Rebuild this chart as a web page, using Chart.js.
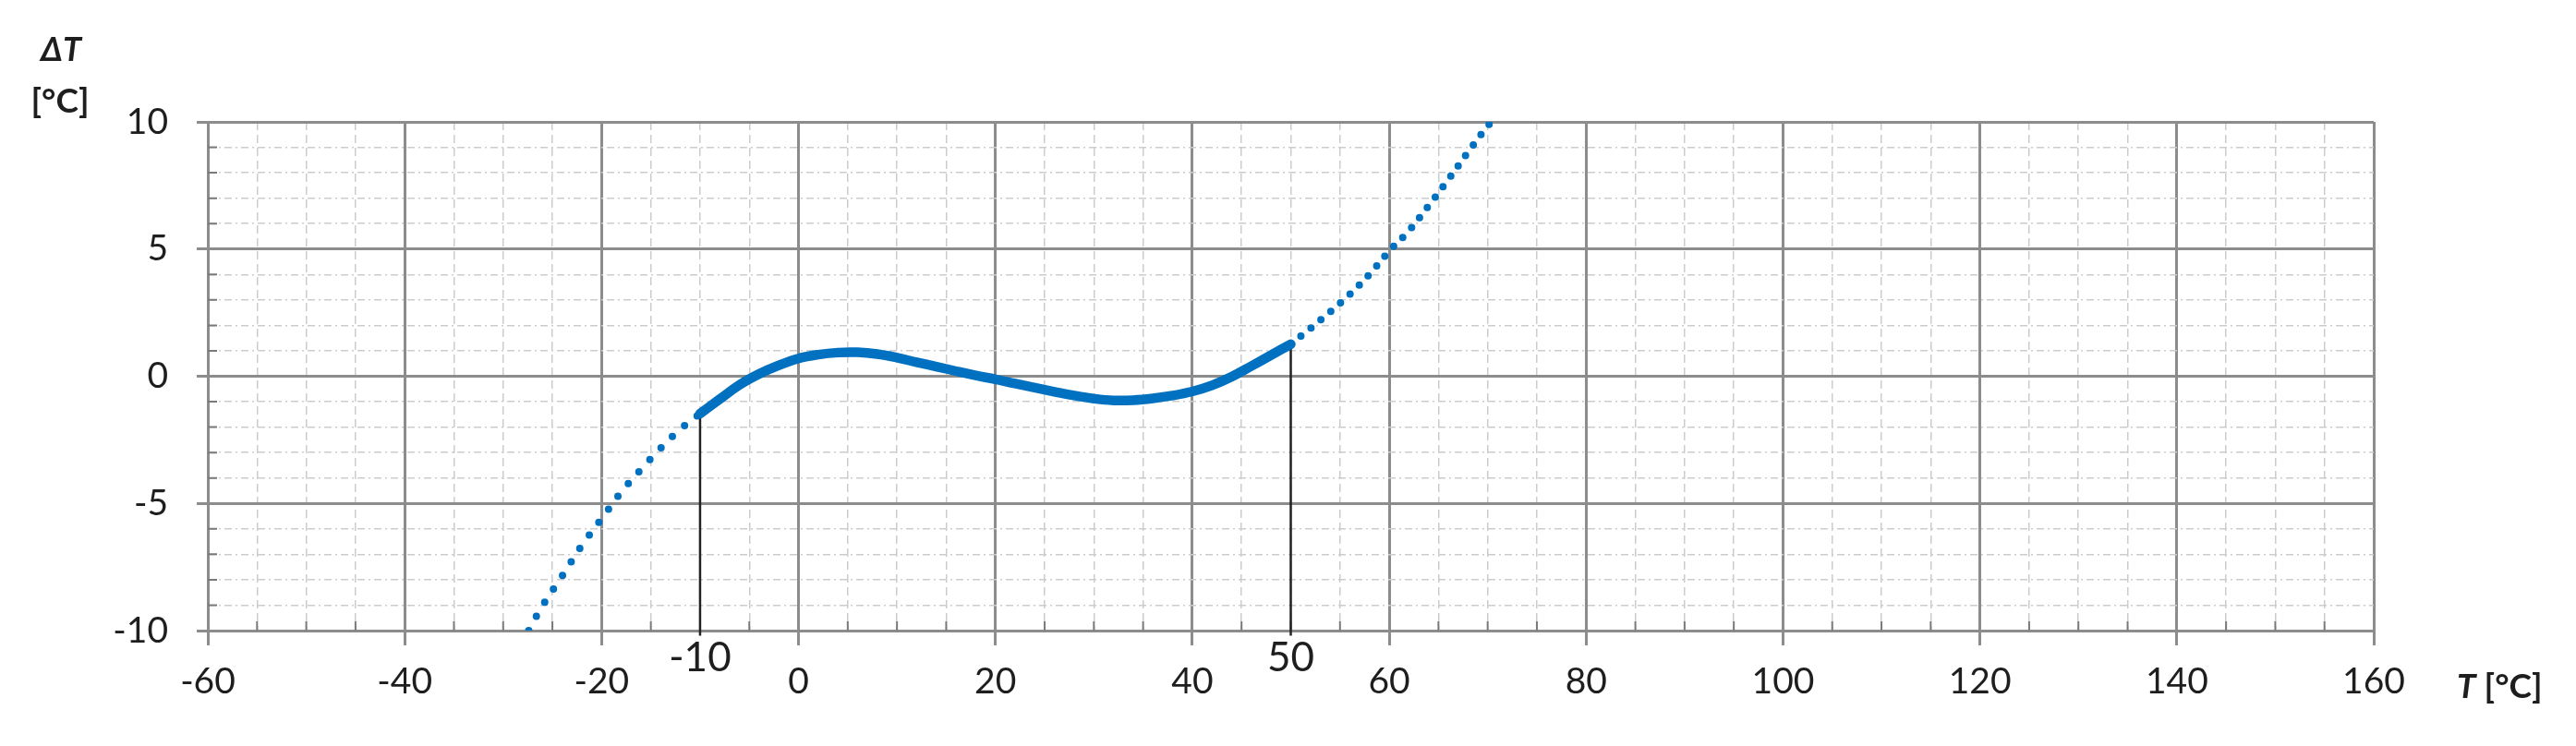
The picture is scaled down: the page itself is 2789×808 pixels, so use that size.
<!DOCTYPE html>
<html>
<head>
<meta charset="utf-8">
<script src="https://cdn.jsdelivr.net/npm/chart.js@4/dist/chart.umd.min.js"></script>
<style>
  html, body { margin: 0; padding: 0; background: #ffffff; }
  canvas { display: block; }
</style>
</head>
<body>
<canvas id="c" width="2789" height="808"></canvas>
<script>
// ---- data ----
const solidT = [-10, -8, -6, -4, -2, 0, 2, 4, 6, 8, 10, 12, 14, 16, 18, 20, 22, 24, 26, 28, 30, 32, 34, 36, 38, 40, 42, 44, 46, 48, 50];
const solidV = [-1.47, -0.90, -0.34, 0.09, 0.43, 0.70, 0.85, 0.93, 0.94, 0.87, 0.73, 0.55, 0.38, 0.20, 0.03, -0.12, -0.29, -0.45, -0.61, -0.76, -0.88, -0.95, -0.94, -0.87, -0.76, -0.60, -0.36, -0.02, 0.40, 0.83, 1.26];

const lowT = [-27.4, -26, -24, -22, -20, -18, -16, -14, -12, -10];
const lowV = [-10.0, -9.02, -7.85, -6.65, -5.60, -4.55, -3.66, -2.83, -2.08, -1.47];

const highT = [50, 52, 54, 56, 58, 60, 62, 64, 66, 68, 70, 70.4];
const highV = [1.26, 1.88, 2.53, 3.22, 4.01, 4.92, 5.72, 6.70, 7.73, 8.81, 9.84, 10.0];

const markerT = [-10, 50];
const markerLabels = ['-10', '50'];
const markerTop = [-1.47, 1.10];
const markerBottom = -10.2;

const xMin = -60, xMax = 160, xStep = 20, xMinorStep = 5;
const yMin = -10, yMax = 10, yStep = 5, yMinorStep = 1;

const yTitleLines = ['\u0394T', '[\u00B0C]'];
const xTitleItalic = 'T';
const xTitleRest = ' [\u00B0C]';

// ---- styles ----
const BLUE = '#0070c0';
const MAJOR = '#8c8c8c';
const MINOR = '#cccccc';
const TEXT = '#1e1e1e';
const FONT = 'Lato, "Open Sans", sans-serif';

const pts = (xs, ys) => xs.map((t, i) => ({ x: t, y: ys[i] }));

const markerSets = markerT.map((t, i) => ({
  data: [{ x: t, y: markerBottom }, { x: t, y: markerTop[i] }],
  showLine: true, borderColor: '#222222', borderWidth: 2.5,
  pointRadius: 0, clip: false, order: 5
}));

const minorTicks = {
  id: 'minorTicks',
  beforeDatasetsDraw(chart) {
    const ctx = chart.ctx, x = chart.scales.x, y = chart.scales.y, a = chart.chartArea;
    ctx.save();
    ctx.strokeStyle = '#7a7a7a';
    ctx.lineWidth = 2;
    ctx.beginPath();
    for (let v = yMin; v <= yMax; v += yMinorStep) {
      if (v % yStep === 0) continue;
      const py = y.getPixelForValue(v);
      ctx.moveTo(a.left, py); ctx.lineTo(a.left + 10, py);
    }
    for (let v = xMin; v <= xMax; v += xMinorStep) {
      if (v % xStep === 0) continue;
      const px = x.getPixelForValue(v);
      ctx.moveTo(px, a.bottom); ctx.lineTo(px, a.bottom - 10);
    }
    ctx.stroke();
    ctx.restore();
  }
};

const titles = {
  id: 'titles',
  afterDraw(chart) {
    const ctx = chart.ctx, a = chart.chartArea, xs = chart.scales.x;
    ctx.save();
    ctx.fillStyle = TEXT;
    ctx.textBaseline = 'middle';
    ctx.textAlign = 'center';
    ctx.font = 'italic bold 36px ' + FONT;
    ctx.fillText(yTitleLines[0], 66, 54);
    ctx.font = 'bold 37px ' + FONT;
    ctx.fillText(yTitleLines[1], 65, 110);
    // marker labels
    ctx.font = '44px ' + FONT;
    markerT.forEach((t, i) => {
      ctx.fillText(markerLabels[i], xs.getPixelForValue(t), a.bottom + 30);
    });
    ctx.textAlign = 'left';
    const x0 = a.right + 90, yy = 744;
    ctx.font = 'italic bold 37px ' + FONT;
    ctx.fillText(xTitleItalic, x0, yy);
    const w = ctx.measureText(xTitleItalic).width;
    ctx.font = 'bold 37px ' + FONT;
    ctx.fillText(xTitleRest, x0 + w, yy);
    ctx.restore();
  }
};

new Chart(document.getElementById('c'), {
  type: 'scatter',
  data: {
    datasets: [
      { data: pts(solidT, solidV), showLine: true, borderColor: BLUE, borderWidth: 10.5,
        pointRadius: 0, tension: 0.4, borderCapStyle: 'round', order: 1 },
      { data: pts(lowT, lowV), showLine: true, borderColor: BLUE, borderWidth: 8,
        borderDash: [0, 17.5], borderCapStyle: 'round', pointRadius: 0, tension: 0.4, order: 2 },
      { data: pts(highT, highV), showLine: true, borderColor: BLUE, borderWidth: 8,
        borderDash: [0, 14], borderCapStyle: 'round', pointRadius: 0, tension: 0.4, order: 2 },
      ...markerSets
    ]
  },
  options: {
    responsive: false,
    animation: false,
    devicePixelRatio: 1,
    layout: { padding: { left: 0, right: 219, top: 132, bottom: 0 } },
    plugins: { legend: { display: false }, tooltip: { enabled: false }, title: { display: false } },
    scales: {
      x: {
        type: 'linear', position: 'bottom', min: xMin, max: xMax, weight: 0,
        ticks: { stepSize: xStep, color: TEXT, font: { family: FONT, size: 39 }, padding: 16, maxRotation: 0 },
        grid: { color: MAJOR, lineWidth: 3, tickLength: 16, tickColor: MAJOR, tickWidth: 3 },
        border: { color: MAJOR, width: 3 },
        afterFit(s) { s.height = 125; }
      },
      xMinor: {
        type: 'linear', position: 'bottom', min: xMin, max: xMax, weight: -2,
        ticks: { stepSize: xMinorStep, display: false },
        grid: {
          drawTicks: false, lineWidth: 1.5,
          color: (c) => (c.tick && c.tick.value % xStep === 0) ? 'rgba(0,0,0,0)' : MINOR
        },
        border: { display: false, dash: [9, 5] },
        afterFit(s) { s.height = 0; }
      },
      y: {
        type: 'linear', position: 'left', min: yMin, max: yMax, weight: 0,
        ticks: { stepSize: yStep, color: TEXT, font: { family: FONT, size: 39 }, padding: 31 },
        grid: { color: MAJOR, lineWidth: 3, tickLength: 12, tickColor: MAJOR, tickWidth: 3 },
        border: { color: MAJOR, width: 3 },
        afterFit(s) { s.width = 225; }
      },
      yMinor: {
        type: 'linear', position: 'left', min: yMin, max: yMax, weight: -1,
        ticks: { stepSize: yMinorStep, display: false },
        grid: {
          drawTicks: false, lineWidth: 1.5,
          color: (c) => (c.tick && c.tick.value % yStep === 0) ? 'rgba(0,0,0,0)' : MINOR
        },
        border: { display: false, dash: [8, 4, 2, 4] },
        afterFit(s) { s.width = 0; }
      }
    }
  },
  plugins: [minorTicks, titles]
});
</script>
</body>
</html>
